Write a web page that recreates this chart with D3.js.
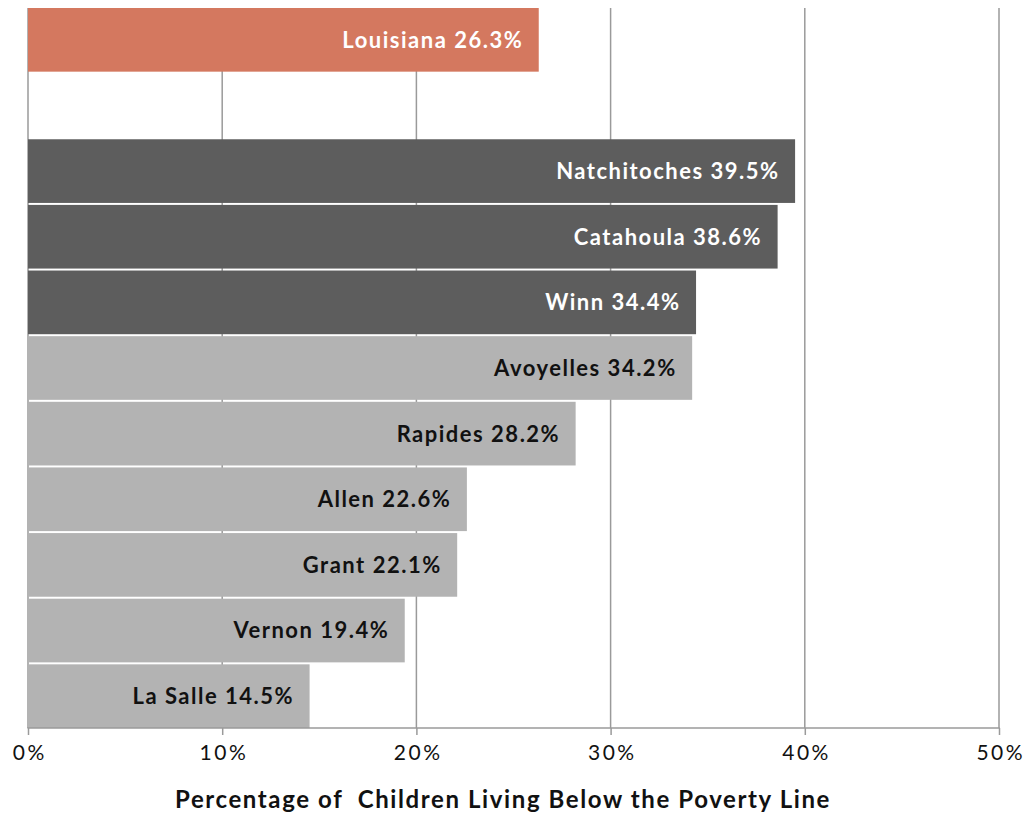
<!DOCTYPE html>
<html><head><meta charset="utf-8">
<script src="https://cdn.jsdelivr.net/npm/d3@7"></script>
<style>body{margin:0;background:#fff}svg{display:block}</style>
</head><body>
<svg id="chart" width="1027" height="816"></svg>
<script>
const categories = ["Louisiana", "", "Natchitoches", "Catahoula", "Winn", "Avoyelles", "Rapides", "Allen", "Grant", "Vernon", "La Salle"];
const values = [26.3, null, 39.5, 38.6, 34.4, 34.2, 28.2, 22.6, 22.1, 19.4, 14.5];
const groups = ["state", null, "high", "high", "high", "low", "low", "low", "low", "low", "low"];
const ticks = [0, 10, 20, 30, 40, 50];
const axisTitle = "Percentage of  Children Living Below the Poverty Line";

const colors = {state: "#d4785f", high: "#5d5d5d", low: "#b3b3b3"};
const textColors = {state: "#ffffff", high: "#ffffff", low: "#111111"};
const font = "Lato, 'DejaVu Sans', sans-serif";

const svg = d3.select("#chart");
const x = d3.scaleLinear().domain([0, 50]).range([28, 999]);
const y = d3.scaleBand().domain(categories.map((c, i) => i)).range([8, 728]).paddingInner(0.03).paddingOuter(0);

const rows = categories.map((c, i) => ({name: c, value: values[i], group: groups[i], i}));

// gridlines
svg.append("g").selectAll("line").data(ticks).join("line")
  .attr("x1", d => x(d)).attr("x2", d => x(d))
  .attr("y1", 8).attr("y2", 728)
  .attr("stroke", "#9a9a9a").attr("stroke-width", 1.5);

// bars
const bars = rows.filter(r => r.value != null);
svg.append("g").selectAll("rect").data(bars).join("rect")
  .attr("x", x(0)).attr("y", d => y(d.i))
  .attr("width", d => x(d.value) - x(0)).attr("height", y.bandwidth())
  .attr("fill", d => colors[d.group]);

// labels
svg.append("g").selectAll("text").data(bars).join("text")
  .attr("x", d => x(d.value) - 15.5)
  .attr("y", d => y(d.i) + y.bandwidth() / 2)
  .attr("dy", "0.36em")
  .attr("text-anchor", "end")
  .attr("font-family", font).attr("font-weight", "bold").attr("font-size", 22)
  .attr("letter-spacing", 1.5)
  .attr("fill", d => textColors[d.group])
  .text(d => `${d.name} ${d.value.toFixed(1)}%`);

// x axis
const axis = d3.axisBottom(x).tickValues(ticks).tickFormat(d => d + "%").tickSize(7).tickPadding(10);
const ax = svg.append("g").attr("transform", "translate(0,728)").call(axis);
ax.select(".domain").attr("stroke", "#9a9a9a").attr("stroke-width", 1.5).attr("d", `M${x(0)},0.5V0H${x(50)}V0.5`);
ax.selectAll(".tick line").attr("stroke", "#9a9a9a").attr("stroke-width", 1.5);
ax.selectAll(".tick text").attr("font-family", font).attr("font-size", 21).attr("fill", "#111")
  .attr("letter-spacing", 2.5).attr("dx", 1.25);

svg.append("text")
  .attr("x", 503).attr("y", 808)
  .attr("text-anchor", "middle")
  .attr("font-family", font).attr("font-weight", "bold").attr("font-size", 24)
  .attr("letter-spacing", 1.6)
  .attr("fill", "#111").attr("xml:space", "preserve").style("white-space", "pre")
  .text(axisTitle);
</script>
</body></html>
